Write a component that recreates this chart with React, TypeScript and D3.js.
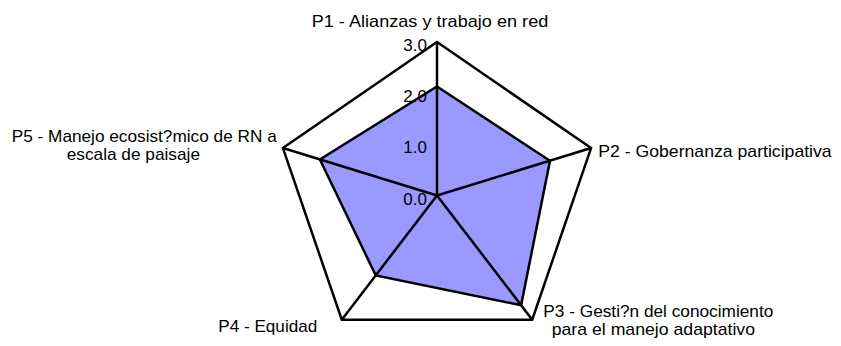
import React from 'react'
import { scaleLinear, line, curveLinearClosed, range } from 'd3'

// categories, split into the lines shown on the chart
const categories = [
  ['P1 - Alianzas y trabajo en red'],
  ['P2 - Gobernanza participativa'],
  ['P3 - Gesti?n del conocimiento', 'para el manejo adaptativo'],
  ['P4 - Equidad'],
  ['P5 - Manejo ecosist?mico de RN a', 'escala de paisaje'],
]
const values = [2.13, 2.2, 2.65, 1.93, 2.28]
const ticks = [0, 1, 2, 3]
const tickLabels = ['0.0', '1.0', '2.0', '3.0']

// label placement relative to outer vertex: [dx, dy, width] per line
const labelLayout = [
  [[-125.3, -15.3, 236.6]],
  [[7.2, 9, 233.4]],
  [[11.1, -2.4, 230], [19.5, 15.3, 203.3]],
  [[-123.5, 12.6, 99]],
  [[-271.2, -6.4, 265], [-216.2, 11.9, 133.3]],
]

const App = () => {
  const width = 841
  const height = 346
  const cx = 437
  const cy = 195.5

  const rx = scaleLinear().domain([0, 3]).range([0, 162])
  const ry = scaleLinear().domain([0, 3]).range([0, 153.5])

  const n = categories.length
  const angle = (i: number) => (i / n) * 2 * Math.PI
  const pt = (i: number, v: number): [number, number] => [
    cx + rx(v) * Math.sin(angle(i)),
    cy - ry(v) * Math.cos(angle(i)),
  ]

  const poly = line().curve(curveLinearClosed)
  const outer = range(n).map(i => pt(i, 3))
  const dataPts = values.map((v, i) => pt(i, v))

  const font = '"Liberation Sans", Arial, sans-serif'
  const sw = 2.5

  return (
    <svg width={width} height={height} style={{ position: 'absolute', left: 0, top: 0 }}>
      <rect width={width} height={height} fill="#fff" />
      <path d={poly(dataPts) || ''} fill="#9999ff" stroke="none" />
      <path d={poly(outer) || ''} fill="none" stroke="#000" strokeWidth={sw} strokeLinejoin="miter" />
      {outer.map((p, i) => (
        <line key={i} x1={cx} y1={cy} x2={p[0]} y2={p[1]} stroke="#000" strokeWidth={sw} />
      ))}
      <path d={poly(dataPts) || ''} fill="none" stroke="#000" strokeWidth={sw} strokeLinejoin="miter" />
      {ticks.map((t, i) => (
        <text key={t} x={cx - 10} y={cy - ry(t) + 9} textAnchor="end"
          fontFamily={font} fontSize={17} fill="#000">{tickLabels[i]}</text>
      ))}
      {categories.map((lines, i) => {
        const [vx, vy] = pt(i, 3)
        return lines.map((s, j) => {
          const [dx, dy, w] = labelLayout[i][j]
          return (
            <text key={i + '-' + j} x={vx + dx} y={vy + dy} textLength={w}
              lengthAdjust="spacingAndGlyphs"
              fontFamily={font} fontSize={17} fill="#000">{s}</text>
          )
        })
      })}
    </svg>
  )
}

export default App
